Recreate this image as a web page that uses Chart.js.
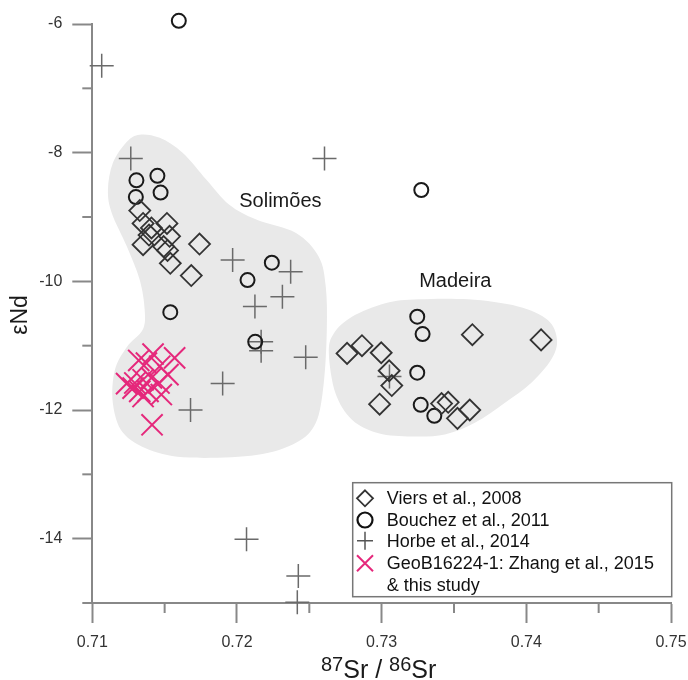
<!DOCTYPE html>
<html><head><meta charset="utf-8">
<script src="https://cdn.jsdelivr.net/npm/chart.js@4.4.0/dist/chart.umd.min.js"></script>
<style>html,body{margin:0;padding:0;background:#fff;}#wrap{width:688px;height:680px;position:relative;}</style>
</head><body><div id="wrap"><canvas id="c" width="688" height="680"></canvas></div>
<script>
// ---- data (87Sr/86Sr , εNd) ----
const seriesNames = ["Viers et al., 2008", "Bouchez et al., 2011", "Horbe et al., 2014", "GeoB16224-1: Zhang et al., 2015", "& this study"];

const viersX = [0.71328,0.71351,0.71409,0.71516,0.71392,0.71351,0.71534,0.71493,0.71520,0.71741,0.71539,0.71684,
                0.72761,0.72864,0.72997,0.73052,0.73070,0.72986,0.73627,0.74102,0.73414,0.73460,0.73524,0.73609];
const viersY = [-8.90,-9.10,-9.17,-9.10,-9.28,-9.43,-9.30,-9.46,-9.52,-9.42,-9.72,-9.91,
                -11.12,-11.00,-11.11,-11.39,-11.62,-11.91,-10.83,-10.91,-11.90,-11.88,-12.13,-12.00];

const bouchezX = [0.71598,0.71305,0.71450,0.71301,0.71472,0.72241,0.72073,0.71539,0.72126,0.73274,0.73246,0.73283,0.73246,0.73270,0.73364];
const bouchezY = [-5.95,-8.43,-8.36,-8.69,-8.62,-9.71,-9.98,-10.48,-10.94,-8.58,-10.55,-10.82,-11.42,-11.92,-12.09];

const horbeX = [0.71065,0.71266,0.72605,0.71970,0.72371,0.72314,0.72124,0.72167,0.72167,0.72475,0.71901,0.71679,0.73054,0.72066,0.72424,0.72417];
const horbeY = [-6.65,-8.09,-8.09,-9.67,-9.85,-10.24,-10.39,-10.94,-11.08,-11.18,-11.59,-12.00,-11.48,-14.01,-14.58,-14.99];

const geobX = [0.71413,0.71569,0.71420,0.71321,0.71374,0.71466,0.71523,0.71237,0.71294,0.71351,0.71409,0.71461,0.71328,0.71385,0.71477,0.71351,0.71282];
const geobY = [-12.23,-11.19,-11.13,-11.23,-11.27,-11.32,-11.45,-11.59,-11.58,-11.53,-11.50,-11.58,-11.71,-11.71,-11.76,-11.79,-11.66];

// field outlines (data units)
const solimoesX = [0.71328,0.71466,0.71624,0.71789,0.71947,0.72133,0.72408,0.72566,0.72614,0.72621,0.72600,0.72545,0.72408,0.72133,0.71672,0.71397,0.71211,0.71142,0.71156,0.71239,0.71349,0.71362,0.71328,0.71239,0.71135,0.71108,0.71142,0.71239];
const solimoesY = [-7.72,-7.77,-8.00,-8.42,-8.81,-9.04,-9.25,-9.62,-10.09,-10.75,-11.58,-12.20,-12.51,-12.70,-12.74,-12.62,-12.35,-11.89,-11.38,-11.02,-10.75,-10.44,-9.98,-9.46,-8.94,-8.58,-8.16,-7.83];
const madeiraX = [0.72635,0.72669,0.72795,0.73025,0.73254,0.73598,0.73942,0.74148,0.74212,0.74171,0.74033,0.73850,0.73644,0.73437,0.73208,0.72979,0.72795,0.72681];
const madeiraY = [-11.12,-10.81,-10.55,-10.34,-10.28,-10.28,-10.39,-10.60,-10.91,-11.22,-11.58,-11.89,-12.20,-12.38,-12.41,-12.36,-12.15,-11.74];
const fieldLabels = ["Solimões", "Madeira"];
const fieldLabelX = [0.72300, 0.73509];
const fieldLabelY = [-8.76, -10.01];

const xTicks = [0.71, 0.72, 0.73, 0.74, 0.75];
const xMinor = [0.715, 0.725, 0.735, 0.745];
const yTicks = [-6, -8, -10, -12, -14];
const yMinor = [-7, -9, -11, -13, -15];

const FONT = '"Liberation Sans", Arial, sans-serif';
const toPts = (xs, ys) => xs.map((x, i) => ({x: x, y: ys[i]}));

function smoothClosed(ctx, pts) {
  const n = pts.length;
  ctx.moveTo(pts[0][0], pts[0][1]);
  for (let i = 0; i < n; i++) {
    const p0 = pts[(i - 1 + n) % n], p1 = pts[i], p2 = pts[(i + 1) % n], p3 = pts[(i + 2) % n];
    ctx.bezierCurveTo(p1[0] + (p2[0] - p0[0]) / 6, p1[1] + (p2[1] - p0[1]) / 6,
                      p2[0] - (p3[0] - p1[0]) / 6, p2[1] - (p3[1] - p1[1]) / 6, p2[0], p2[1]);
  }
  ctx.closePath();
}

const decor = {
  id: 'decor',
  beforeDatasetsDraw(chart) {
    const ctx = chart.ctx, sx = chart.scales.x, sy = chart.scales.y;
    ctx.save();
    ctx.fillStyle = '#e9e9e9';
    [[solimoesX, solimoesY], [madeiraX, madeiraY]].forEach(([xs, ys]) => {
      const pts = xs.map((x, i) => [sx.getPixelForValue(x), sy.getPixelForValue(ys[i])]);
      ctx.beginPath(); smoothClosed(ctx, pts); ctx.fill();
    });
    ctx.fillStyle = '#1a1a1a';
    ctx.font = '20px ' + FONT;
    ctx.textAlign = 'center'; ctx.textBaseline = 'middle';
    fieldLabels.forEach((t, i) => ctx.fillText(t, sx.getPixelForValue(fieldLabelX[i]), sy.getPixelForValue(fieldLabelY[i])));
    // minor ticks
    ctx.strokeStyle = '#888'; ctx.lineWidth = 2;
    const L = chart.chartArea.left, B = chart.chartArea.bottom;
    yMinor.forEach(v => { const p = sy.getPixelForValue(v); ctx.beginPath(); ctx.moveTo(L - 10, p); ctx.lineTo(L, p); ctx.stroke(); });
    xMinor.forEach(v => { const p = sx.getPixelForValue(v); ctx.beginPath(); ctx.moveTo(p, B); ctx.lineTo(p, B + 10); ctx.stroke(); });
    ctx.restore();
  },
  afterDraw(chart) {
    const ctx = chart.ctx;
    ctx.save();
    // y title
    ctx.fillStyle = '#1a1a1a';
    ctx.translate(20.5, 315); ctx.rotate(-Math.PI / 2);
    ctx.font = '23px ' + FONT; ctx.textAlign = 'center'; ctx.textBaseline = 'middle';
    ctx.fillText('εNd', 0, 0);
    ctx.setTransform(1, 0, 0, 1, 0, 0);
    // x title with superscripts
    const parts = [['87', 20, 671], ['Sr', 25, 678], [' / ', 25, 678], ['86', 20, 671], ['Sr', 25, 678]];
    let x = 321;
    ctx.textAlign = 'left'; ctx.textBaseline = 'alphabetic';
    parts.forEach(([t, s, b]) => { ctx.font = s + 'px ' + FONT; ctx.fillText(t, x, b); x += ctx.measureText(t).width; });
    // legend
    const bx = 352.7, by = 482.7, bw = 319, bh = 114;
    ctx.fillStyle = '#fff'; ctx.fillRect(bx, by, bw, bh);
    ctx.strokeStyle = '#777'; ctx.lineWidth = 1.5; ctx.strokeRect(bx, by, bw, bh);
    const rows = [498.3, 520, 540.7, 563.3, 585];
    const mx = 365;
    ctx.strokeStyle = '#333'; ctx.lineWidth = 1.8;
    ctx.beginPath(); ctx.moveTo(mx, rows[0] - 8); ctx.lineTo(mx + 8, rows[0]); ctx.lineTo(mx, rows[0] + 8); ctx.lineTo(mx - 8, rows[0]); ctx.closePath(); ctx.stroke();
    ctx.strokeStyle = '#111'; ctx.lineWidth = 2.2;
    ctx.beginPath(); ctx.arc(mx, rows[1], 7.5, 0, Math.PI * 2); ctx.stroke();
    ctx.strokeStyle = '#555'; ctx.lineWidth = 1.5;
    ctx.beginPath(); ctx.moveTo(mx - 8, rows[2]); ctx.lineTo(mx + 8, rows[2]); ctx.moveTo(mx, rows[2] - 9); ctx.lineTo(mx, rows[2] + 9); ctx.stroke();
    ctx.strokeStyle = '#e5287b'; ctx.lineWidth = 2;
    ctx.beginPath(); ctx.moveTo(mx - 8, rows[3] - 8); ctx.lineTo(mx + 8, rows[3] + 8); ctx.moveTo(mx + 8, rows[3] - 8); ctx.lineTo(mx - 8, rows[3] + 8); ctx.stroke();
    ctx.fillStyle = '#111'; ctx.font = '18px ' + FONT; ctx.textAlign = 'left'; ctx.textBaseline = 'middle';
    seriesNames.forEach((t, i) => ctx.fillText(t, 386.7, rows[i] + 1));
    ctx.restore();
  }
};

new Chart(document.getElementById('c'), {
  type: 'scatter',
  data: {
    datasets: [
      {label: seriesNames[0], data: toPts(viersX, viersY), pointStyle: 'rectRot', pointRadius: 10.5, borderColor: '#333', borderWidth: 1.8, backgroundColor: 'rgba(0,0,0,0)', clip: false},
      {label: seriesNames[1], data: toPts(bouchezX, bouchezY), pointStyle: 'circle', pointRadius: 7, borderColor: '#1a1a1a', borderWidth: 2, backgroundColor: 'rgba(0,0,0,0)', clip: false},
      {label: seriesNames[2], data: toPts(horbeX, horbeY), pointStyle: 'cross', pointRadius: 12, borderColor: '#6a6a6a', borderWidth: 1.5, backgroundColor: 'rgba(0,0,0,0)', clip: false},
      {label: seriesNames[3], data: toPts(geobX, geobY), pointStyle: 'crossRot', pointRadius: 15, borderColor: '#e5287b', borderWidth: 2, backgroundColor: 'rgba(0,0,0,0)', clip: false}
    ]
  },
  options: {
    responsive: false, animation: false, events: [],
    layout: {padding: {top: 24, right: 14, left: 0, bottom: 0}},
    plugins: {legend: {display: false}, tooltip: {enabled: false}},
    scales: {
      x: {
        type: 'linear', min: 0.71, max: 0.75,
        afterBuildTicks(s) { s.ticks = xTicks.map(v => ({value: v})); },
        ticks: {callback: v => Number(v).toFixed(2), font: {size: 16, family: FONT}, color: '#333', padding: 10, maxRotation: 0, autoSkip: false},
        grid: {drawOnChartArea: false, drawTicks: true, tickLength: 20, tickColor: '#888', tickWidth: 2},
        border: {display: true, color: '#888', width: 2},
        afterFit(s) { s.height = 77; s.paddingLeft = 0; s.paddingRight = 0; }
      },
      y: {
        type: 'linear', min: -15, max: -6,
        afterBuildTicks(s) { s.ticks = yTicks.slice().reverse().map(v => ({value: v})); },
        ticks: {callback: v => String(Math.round(v)), font: {size: 16, family: FONT}, color: '#333', padding: 10, autoSkip: false},
        grid: {drawOnChartArea: false, drawTicks: true, tickLength: 20, tickColor: '#888', tickWidth: 2},
        border: {display: true, color: '#888', width: 2},
        afterFit(s) { s.width = 92.3; s.paddingTop = 0; s.paddingBottom = 0; }
      }
    }
  },
  plugins: [decor]
});
</script>
</body></html>
